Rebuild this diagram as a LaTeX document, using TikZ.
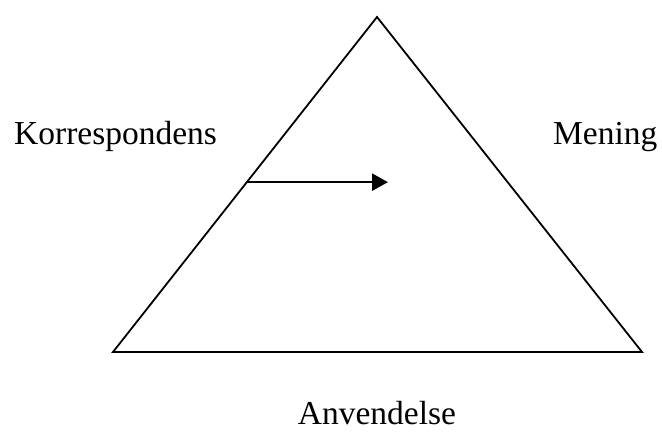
\documentclass[tikz,border=0pt]{standalone}
\usepackage{fontspec}
\setmainfont{Liberation Serif}
\usetikzlibrary{arrows.meta,calc}
\tikzset{
  lbl/.style={inner sep=0pt, font=\fontsize{33.5}{40}\selectfont},
  edge/.style={line width=1.8pt, line join=miter},
  flowarrow/.style={line width=2.6pt, -{Triangle[length=16pt,width=17pt]}}
}
\begin{document}
\begin{tikzpicture}[x=1pt,y=-1pt]
\useasboundingbox (0,0) rectangle (662,435);
\coordinate (A) at (377,17);
\coordinate (L) at (113,352);
\coordinate (R) at (642,352);
\draw[edge] (A) -- (L) -- (R) -- cycle;
\coordinate (s) at ($(L)!0.507!(A)$);
\coordinate (e) at (388,182);
\draw[flowarrow] (s) -- (s -| e);
\node[lbl, anchor=base west] (k) at (14,145) {Korrespondens};
\node[lbl, anchor=base west] (m) at (553,145) {Mening};
\node[lbl, anchor=base] (an) at (377,425) {Anvendelse};
\end{tikzpicture}
\end{document}
